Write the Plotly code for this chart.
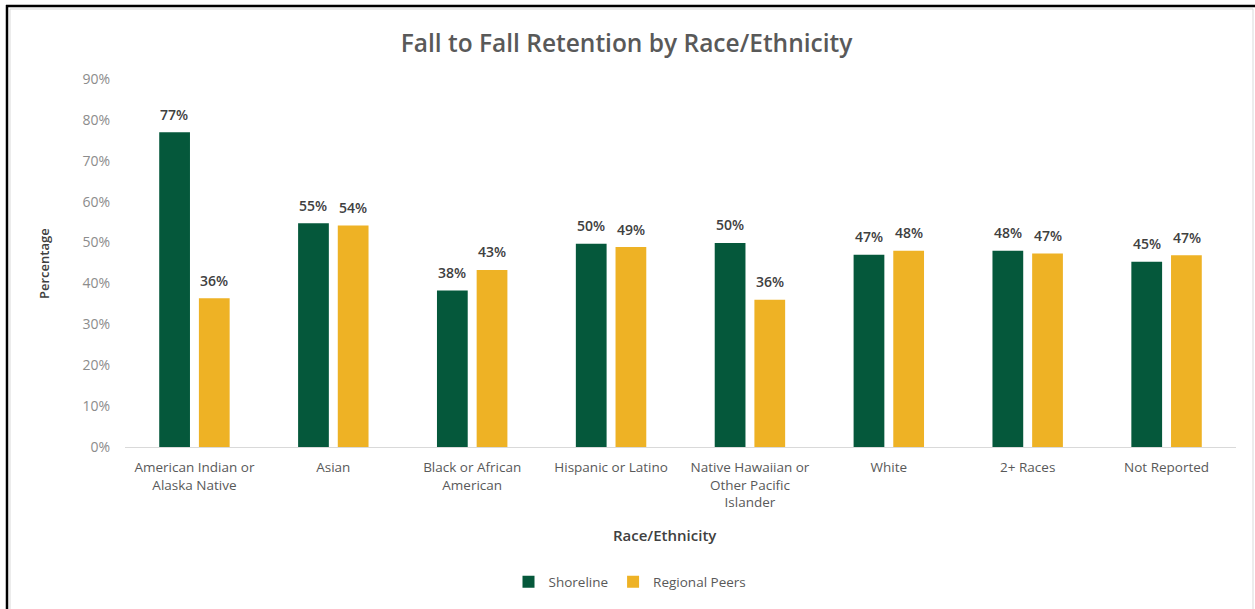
import plotly.graph_objects as go

categories = [
    "American Indian or<br>Alaska Native",
    "Asian",
    "Black or African<br>American",
    "Hispanic or Latino",
    "Native Hawaiian or<br>Other Pacific<br>Islander",
    "White",
    "2+ Races",
    "Not Reported",
]
shoreline = [77.0, 54.7, 38.3, 49.7, 49.9, 47.0, 48.0, 45.3]
regional_peers = [36.4, 54.2, 43.3, 48.9, 36.0, 48.0, 47.3, 46.9]
y_ticks = [0, 10, 20, 30, 40, 50, 60, 70, 80, 90]

GREEN = "#05583B"
GOLD = "#EEB225"
FONT = "Open Sans, sans-serif"

W, H = 1255, 609
L, R, T, B = 125, 19, 79, 162
PW, PH = W - L - R, H - T - B


def px(x):
    return (x - L) / PW


def py(y):
    return (H - B - y) / PH


fig = go.Figure()
fig.add_trace(go.Bar(name="Shoreline", x=categories, y=shoreline,
                     marker=dict(color=GREEN, line=dict(width=0))))
fig.add_trace(go.Bar(name="Regional Peers", x=categories, y=regional_peers,
                     marker=dict(color=GOLD, line=dict(width=0))))

annotations = []
for vals, shift in ((shoreline, -20), (regional_peers, 20)):
    for c, v in zip(categories, vals):
        annotations.append(dict(
            x=c, y=v, xref="x", yref="y", text=f"{v:.0f}%", showarrow=False,
            xshift=shift, yshift=18, yanchor="middle",
            font=dict(family=FONT, size=14, color="#404040", weight=600)))

annotations.append(dict(x=px(665), y=py(535), xref="paper", yref="paper",
                        text="Race/Ethnicity", showarrow=False,
                        yanchor="middle", xanchor="center",
                        font=dict(family=FONT, size=15, color="#404040", weight=600)))
annotations.append(dict(x=px(44), y=py(264), xref="paper", yref="paper",
                        text="Percentage", showarrow=False, textangle=-90,
                        yanchor="middle", xanchor="center",
                        font=dict(family=FONT, size=13, color="#404040", weight=600)))

shapes = [
    dict(type="rect", xref="paper", yref="paper", x0=px(10), x1=px(1253),
         y0=py(9), y1=py(612), line=dict(color="#D9D9D9", width=1), layer="below"),
    dict(type="line", xref="paper", yref="paper", x0=px(7), x1=px(7),
         y0=py(5), y1=py(612), line=dict(color="black", width=2.5)),
    dict(type="line", xref="paper", yref="paper", x0=px(6), x1=px(1256),
         y0=py(6), y1=py(6), line=dict(color="black", width=2.5)),
]

fig.update_layout(
    width=W, height=H,
    margin=dict(l=L, r=R, t=T, b=B),
    paper_bgcolor="white", plot_bgcolor="white",
    barmode="group", bargap=0.4286, bargroupgap=0.225,
    title=dict(text="Fall to Fall Retention by Race/Ethnicity",
               x=626.5 / W, xanchor="center", y=1 - 43 / H, yanchor="middle",
               font=dict(family=FONT, size=24.5, color="#595959", weight=600)),
    font=dict(family=FONT),
    showlegend=True,
    legend=dict(orientation="h", x=px(630), xanchor="center", y=py(582),
                yanchor="middle", font=dict(family=FONT, size=13.5, color="#595959"),
                itemwidth=30, tracegroupgap=0, bgcolor="rgba(0,0,0,0)"),
    annotations=annotations,
    shapes=shapes,
    xaxis=dict(showgrid=False, showline=True, linecolor="#D9D9D9", linewidth=1,
               ticks="", tickfont=dict(family=FONT, size=13.5, color="#595959"),
               ticklabelstandoff=8, fixedrange=True),
    yaxis=dict(range=[0, 90], tickvals=y_ticks, ticktext=[f"{v}%" for v in y_ticks],
               showgrid=False, zeroline=False, showline=False,
               tickfont=dict(family=FONT, size=14, color="#8C8C8C"),
               ticklabelstandoff=14, fixedrange=True),
)

fig.write_html("out.html",
               config={"displayModeBar": False},
               post_script="document.body.style.margin='0px';"
                           "document.body.style.overflow='hidden';")
